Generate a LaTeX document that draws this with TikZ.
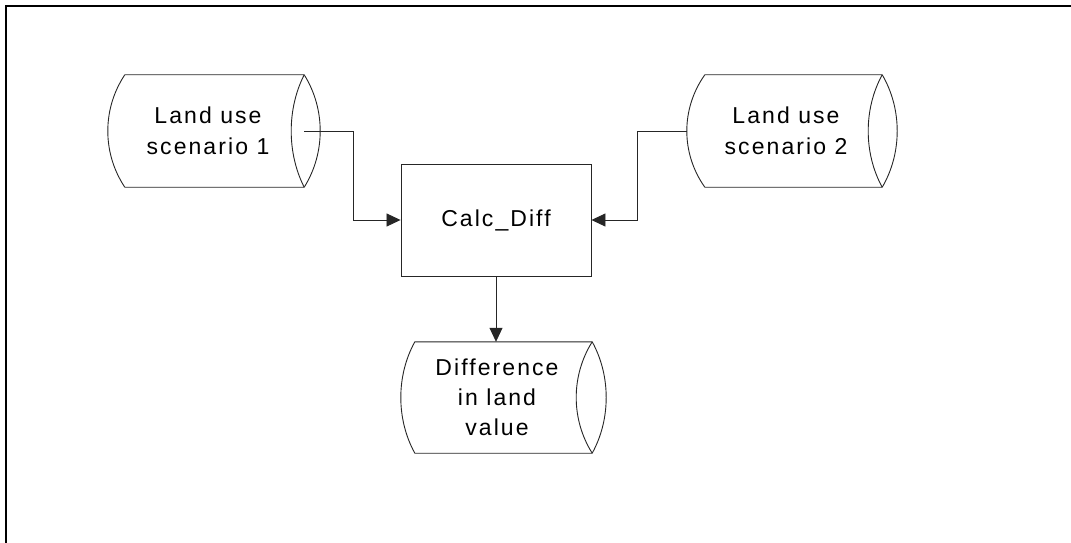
\documentclass[tikz,border=0pt]{standalone}
\usepackage{fontspec}
\setmainfont{Liberation Sans}[LetterSpace=9]
\usetikzlibrary{arrows.meta,calc}
\newcommand\cylout[4]{%
  \draw[cylline] (#1.north west) -- (#1.north east)
    .. controls ($(#1.north east)+({4*#3/3},34)$) and ($(#1.south east)+({4*#3/3},-34)$) .. (#1.south east)
    -- (#1.south west)
    .. controls ($(#1.south west)+({-4*#2/3},-34)$) and ($(#1.north west)+({-4*#2/3},34)$) .. (#1.north west) -- cycle;
  \draw[cylline] (#1.north east)
    .. controls ($(#1.north east)+({-4*#4/3},34)$) and ($(#1.south east)+({-4*#4/3},-34)$) .. (#1.south east);
}
\begin{document}
\begin{tikzpicture}[x=1pt,y=-1pt,
  cylline/.style={draw=black!85,line width=0.9pt,line join=round},
  cylbody/.style={draw=none,inner sep=0pt,minimum height=112pt},
  lbl/.style={align=center,font=\fontsize{23}{31}\selectfont,inner sep=0pt},
  procbox/.style={draw=black!85,line width=0.9pt,inner sep=0pt,minimum width=190pt,minimum height=112pt,font=\fontsize{23}{31}\selectfont},
  conn/.style={draw=black!85,line width=0.8pt,-{Triangle[length=14pt,width=13pt]}}]
\useasboundingbox (0,0) rectangle (1071,543);
\draw[line width=2pt] (6,543) -- (6,6) -- (1071,6);
% cylinders
\node[cylbody,minimum width=179pt] (s1) at (214.5,131) {};
\node[cylbody,minimum width=177pt] (s2) at (793.5,131) {};
\node[cylbody,minimum width=177pt,minimum height=111pt] (s3) at (503.5,397.5) {};
\cylout{s1}{17}{16}{13}
\cylout{s2}{18}{15}{14}
\cylout{s3}{14}{14}{16}
\node[lbl] (t1) at (208,131) {Land use\\scenario 1};
\node[lbl] (t2) at (786,131) {Land use\\scenario 2};
\node[lbl,font=\fontsize{23}{30}\selectfont] (t3) at (497,397) {Difference\\in land\\value};
% process
\node[procbox] (calc) at (496,220) {Calc\_Diff};
% connectors
\draw[conn] (s1.east) -- ++(49,0) |- (calc.west);
\draw[conn] ([xshift=-18pt]s2.west) -- ++(-49,0) |- (calc.east);
\draw[conn] (calc.south) -- (calc.south |- s3.north);
\end{tikzpicture}
\end{document}
